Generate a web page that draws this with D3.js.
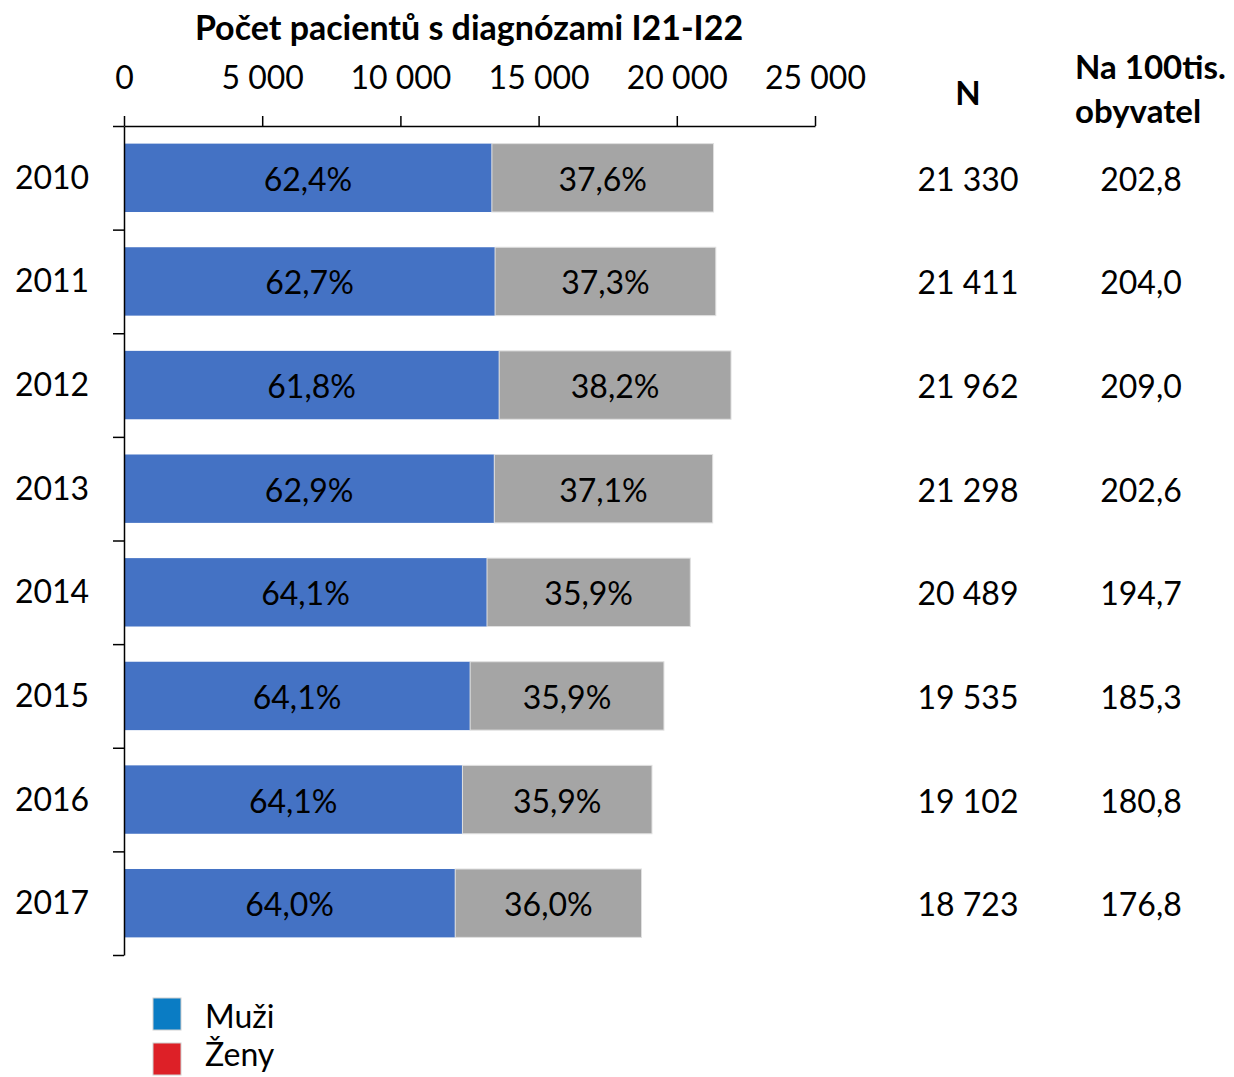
<!DOCTYPE html>
<html lang="cs">
<head>
<meta charset="UTF-8">
<title>Počet pacientů s diagnózami I21-I22</title>
<script src="https://d3js.org/d3.v7.min.js"></script>
<style>
    body { margin: 0; background: #fff; }
    text { font-family: Lato, "Open Sans", sans-serif; fill: #000; }
    .axis path, .axis line { stroke: #000; stroke-width: 1.5px; }
</style>
</head>
<body>
<svg width="1234" height="1077"></svg>
<script>
    const years = ["2010", "2011", "2012", "2013", "2014", "2015", "2016", "2017"];
    const totalN = [21330, 21411, 21962, 21298, 20489, 19535, 19102, 18723];
    const menPct = [62.4, 62.7, 61.8, 62.9, 64.1, 64.1, 64.1, 64.0];
    const womenPct = [37.6, 37.3, 38.2, 37.1, 35.9, 35.9, 35.9, 36.0];
    const per100k = [202.8, 204.0, 209.0, 202.6, 194.7, 185.3, 180.8, 176.8];
    const xTicks = [0, 5000, 10000, 15000, 20000, 25000];
    const legendLabels = ["Muži", "Ženy"];

    const cz = d3.formatLocale({ decimal: ",", thousands: " ", grouping: [3], currency: ["", " Kč"] });
    const fmtInt = cz.format(",d");
    const fmt1 = cz.format(".1f");

    const svg = d3.select("svg");

    const x = d3.scaleLinear().domain([0, 25000]).range([124, 815]);
    const y = d3.scaleBand().domain(years).range([126, 955]).paddingInner(0.34).paddingOuter(0.17);
    const yEdge = d3.scaleLinear().domain([0, years.length]).range([126, 955]);

    const rows = years.map((yr, i) => {
        const men = totalN[i] * menPct[i] / 100;
        return { year: yr, n: totalN[i], men: men, women: totalN[i] - men, pm: menPct[i], pw: womenPct[i], rate: per100k[i] };
    });

    // title
    svg.append("text")
        .attr("x", 469).attr("y", 40)
        .attr("text-anchor", "middle")
        .style("font-weight", "bold").style("font-size", "34px")
        .text("Počet pacientů s diagnózami I21-I22");

    // bars
    const g = svg.append("g");
    g.selectAll(".men").data(rows).join("rect")
        .attr("x", x(0)).attr("y", d => y(d.year))
        .attr("width", d => x(d.men) - x(0)).attr("height", y.bandwidth())
        .attr("fill", "#4472C4");
    g.selectAll(".women").data(rows).join("rect")
        .attr("x", d => x(d.men)).attr("y", d => y(d.year))
        .attr("width", d => x(d.n) - x(d.men)).attr("height", y.bandwidth())
        .attr("fill", "#A5A5A5").attr("stroke", "#e0e0e0").attr("stroke-width", 1);

    // segment labels
    g.selectAll(".lm").data(rows).join("text")
        .attr("x", d => (x(0) + x(d.men)) / 2).attr("y", d => y(d.year) + y.bandwidth() / 2 + 13)
        .attr("text-anchor", "middle").style("font-size", "32px")
        .text(d => fmt1(d.pm) + "%");
    g.selectAll(".lw").data(rows).join("text")
        .attr("x", d => (x(d.men) + x(d.n)) / 2).attr("y", d => y(d.year) + y.bandwidth() / 2 + 13)
        .attr("text-anchor", "middle").style("font-size", "32px")
        .text(d => fmt1(d.pw) + "%");

    // top axis
    const xAxis = svg.append("g").attr("class", "axis")
        .attr("transform", "translate(0,126)")
        .call(d3.axisTop(x).tickValues(xTicks).tickFormat(fmtInt).tickSize(10).tickSizeOuter(0).tickPadding(27));
    xAxis.selectAll("text").style("font-size", "32px").style("font-family", "Lato, 'Open Sans', sans-serif");

    // left axis (ticks at band edges)
    svg.append("g").attr("class", "axis")
        .attr("transform", "translate(124,0)")
        .call(d3.axisLeft(yEdge).ticks(years.length).tickFormat("").tickSize(11).tickSizeOuter(0));

    // year labels
    svg.selectAll(".yr").data(rows).join("text")
        .attr("x", 52).attr("y", d => y(d.year) + y.bandwidth() / 2 + 11)
        .attr("text-anchor", "middle").style("font-size", "32px")
        .text(d => d.year);

    // side columns
    svg.append("text").attr("x", 968).attr("y", 105).attr("text-anchor", "middle")
        .style("font-weight", "bold").style("font-size", "33px").text("N");
    svg.append("text").attr("x", 1075).attr("y", 79)
        .style("font-weight", "bold").style("font-size", "33px").text("Na 100tis.");
    svg.append("text").attr("x", 1075).attr("y", 123)
        .style("font-weight", "bold").style("font-size", "33px").text("obyvatel");

    svg.selectAll(".nval").data(rows).join("text")
        .attr("x", 968).attr("y", d => y(d.year) + y.bandwidth() / 2 + 13)
        .attr("text-anchor", "middle").style("font-size", "32px")
        .text(d => fmtInt(d.n));
    svg.selectAll(".rval").data(rows).join("text")
        .attr("x", 1141).attr("y", d => y(d.year) + y.bandwidth() / 2 + 13)
        .attr("text-anchor", "middle").style("font-size", "32px")
        .text(d => fmt1(d.rate));

    // legend
    const legColor = d3.scaleOrdinal().domain(legendLabels).range(["#0A7CC4", "#DD2027"]);
    svg.selectAll(".legbox").data(legendLabels).join("rect")
        .attr("x", 153).attr("y", (d, i) => 998 + i * 45)
        .attr("width", 28).attr("height", 32)
        .attr("fill", d => legColor(d)).attr("stroke", "#d0d0d0").attr("stroke-width", 1);
    svg.selectAll(".legtext").data(legendLabels).join("text")
        .attr("x", 205).attr("y", (d, i) => 1028 + i * 38)
        .style("font-size", "32px").text(d => d);
</script>
</body>
</html>
